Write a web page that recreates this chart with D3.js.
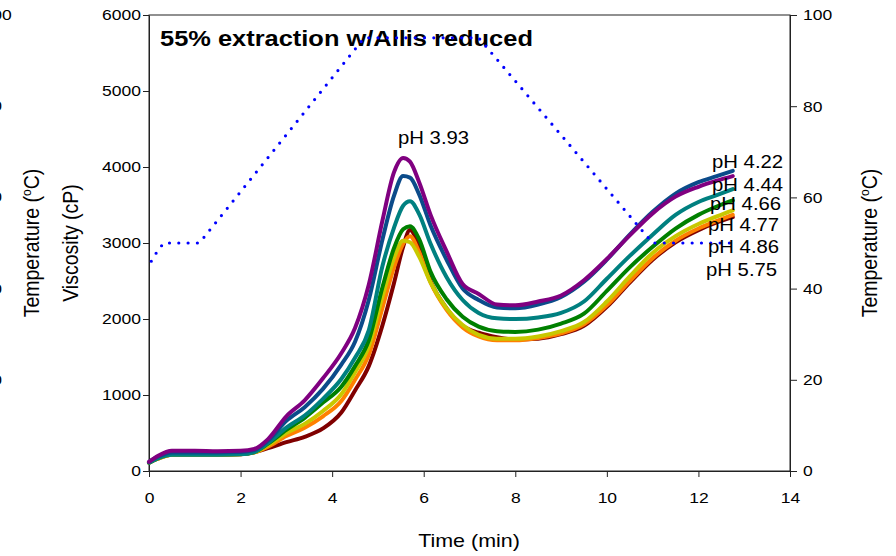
<!DOCTYPE html>
<html><head><meta charset="utf-8">
<script src="https://cdn.jsdelivr.net/npm/d3@7"></script>
<style>html,body{margin:0;padding:0;background:#fff;} svg{display:block;}</style>
</head><body>
<svg id="chart" width="896" height="556"></svg>
<script>
// ---------------- data ----------------
const times = [0, 0.2, 0.5, 1.0, 1.5, 2.0, 2.3, 2.6, 3.0, 3.4, 3.8, 4.2, 4.5, 4.8, 5.1, 5.35, 5.55, 5.7, 5.9, 6.15, 6.5, 6.85, 7.2, 7.6, 8.0, 8.5, 9.0, 9.5, 10.0, 10.5, 11.0, 11.5, 12.0, 12.4, 12.75];

const viscPH393 = [120, 200, 265, 265, 260, 265, 290, 420, 720, 930, 1220, 1550, 1880, 2450, 3300, 3930, 4120, 4070, 3800, 3370, 2890, 2460, 2330, 2190, 2180, 2230, 2310, 2510, 2790, 3100, 3390, 3610, 3740, 3820, 3880];
const viscPH422 = [120, 190, 245, 245, 245, 250, 275, 400, 660, 840, 1080, 1400, 1700, 2250, 3050, 3620, 3880, 3860, 3640, 3230, 2780, 2400, 2250, 2150, 2140, 2190, 2290, 2490, 2780, 3110, 3410, 3650, 3800, 3880, 3950];
const viscPH444 = [110, 170, 215, 215, 215, 220, 250, 370, 570, 730, 950, 1210, 1490, 1850, 2700, 3200, 3490, 3550, 3380, 2990, 2550, 2250, 2080, 2010, 2000, 2020, 2080, 2230, 2530, 2830, 3110, 3370, 3540, 3630, 3710];
const viscPH466 = [110, 170, 220, 220, 220, 225, 250, 360, 540, 700, 900, 1110, 1380, 1720, 2420, 2930, 3180, 3220, 3050, 2620, 2260, 2030, 1900, 1840, 1830, 1860, 1940, 2070, 2370, 2680, 2950, 3190, 3370, 3480, 3560];
const viscPH477 = [110, 165, 215, 215, 215, 220, 245, 340, 500, 620, 790, 1010, 1300, 1640, 2300, 2800, 3030, 3010, 2820, 2480, 2140, 1920, 1790, 1740, 1740, 1770, 1840, 1960, 2230, 2560, 2870, 3090, 3250, 3350, 3430];
const viscPH486 = [110, 165, 215, 215, 215, 220, 245, 320, 460, 570, 720, 920, 1200, 1530, 2150, 2680, 2990, 3090, 2880, 2480, 2120, 1890, 1770, 1720, 1720, 1750, 1810, 1930, 2180, 2500, 2800, 3030, 3190, 3290, 3370];
const viscPH575 = [110, 165, 215, 215, 215, 220, 245, 300, 380, 450, 560, 770, 1060, 1380, 1920, 2470, 2950, 3170, 2960, 2500, 2140, 1910, 1820, 1760, 1730, 1740, 1800, 1910, 2160, 2480, 2780, 3010, 3170, 3270, 3340];

const tempTimes  = [0.05, 0.17, 0.32, 1.1, 4.7, 7.2, 11.0, 12.8];
const tempValues = [46, 48, 50, 50, 95, 95, 50, 50];

const seriesLabels = ["pH 3.93", "pH 4.22", "pH 4.44", "pH 4.66", "pH 4.77", "pH 4.86", "pH 5.75"];
const xTickValues = [0, 2, 4, 6, 8, 10, 12, 14];
const viscTickValues = [0, 1000, 2000, 3000, 4000, 5000, 6000];
const tempTickValues = [0, 20, 40, 60, 80, 100];
const titleText = "55% extraction w/Allis reduced";
const xTitle = "Time (min)";
const viscTitle = "Viscosity (cP)";

// ---------------- styles / layout ----------------
const FONT = "'Liberation Sans', Arial, Helvetica, sans-serif";
const SX = 1.13; // horizontal text stretch seen in the reference
const W = 896, H = 556;
const L = 149, R = 790, T = 15, B = 471;

const seriesData = [viscPH393, viscPH422, viscPH444, viscPH466, viscPH477, viscPH486, viscPH575];
const seriesColors = ["#800080", "#0b4b8a", "#008080", "#008000", "#c8c800", "#ff8000", "#800000"];
const drawOrder = [6, 5, 4, 3, 2, 1, 0];

const svg = d3.select("#chart");

const x = d3.scaleLinear().domain([0, 14]).range([L, R]);
const y = d3.scaleLinear().domain([0, 6000]).range([B, T]);
const yT = d3.scaleLinear().domain([0, 100]).range([B, T]);

function stretchedText(parent, px, py, str, o) {
  const g = parent.append("g")
    .attr("transform", `translate(${px},${py}) scale(${SX},1)` + (o.rotate ? ` rotate(${o.rotate})` : ""));
  const t = g.append("text")
    .attr("font-family", FONT)
    .attr("font-size", o.size)
    .attr("font-weight", o.weight || "normal")
    .attr("text-anchor", o.anchor || "start")
    .attr("fill", "#000");
  if (o.dy) t.attr("dy", o.dy);
  return t;
}
function tempTitle(parent, px, py) {
  const t = stretchedText(parent, px, py, "", {size: 19.5, anchor: "middle", rotate: -90});
  t.append("tspan").text("Temperature (");
  t.append("tspan").text("o").attr("font-size", 12).attr("dy", -7);
  t.append("tspan").text("C)").attr("dy", 7);
}

// frame
svg.append("rect").attr("x", L).attr("y", T).attr("width", R - L).attr("height", B - T)
  .attr("fill", "none").attr("stroke", "#222").attr("stroke-width", 1);

// left axis (viscosity)
const gl = svg.append("g").attr("transform", `translate(${L},0)`)
  .call(d3.axisLeft(y).tickValues(viscTickValues).tickSize(6).tickSizeOuter(0).tickFormat(d3.format("d")));
gl.select(".domain").attr("stroke", "#222");
gl.selectAll(".tick line").attr("stroke", "#222");
gl.selectAll(".tick text").attr("font-family", FONT).attr("font-size", 15.5).attr("fill", "#000")
  .attr("x", -8 / SX).attr("transform", `scale(${SX},1)`);

// right axis (temperature)
const gr = svg.append("g").attr("transform", `translate(${R},0)`)
  .call(d3.axisRight(yT).tickValues(tempTickValues).tickSize(7).tickSizeOuter(0).tickFormat(d3.format("d")));
gr.select(".domain").attr("stroke", "#222");
gr.selectAll(".tick line").attr("stroke", "#222");
gr.selectAll(".tick text").attr("font-family", FONT).attr("font-size", 15.5).attr("fill", "#000")
  .attr("x", 13 / SX).attr("transform", `scale(${SX},1)`);

// bottom axis
const gb = svg.append("g").attr("transform", `translate(0,${B})`)
  .call(d3.axisBottom(x).tickValues(xTickValues).tickSize(6).tickSizeOuter(0).tickFormat(d3.format("d")));
gb.select(".domain").attr("stroke", "#222");
gb.selectAll(".tick line").attr("stroke", "#222");
gb.selectAll(".tick text").attr("font-family", FONT).attr("font-size", 15.5).attr("fill", "#000")
  .attr("dy", 0).attr("y", 32).attr("transform", `scale(${SX},1)`)
  .attr("x", 0);
gb.selectAll(".tick").each(function(d){
  d3.select(this).select("text").attr("transform", null);
});
gb.selectAll(".tick text").each(function(){
  const el = d3.select(this);
  el.attr("transform", `scale(${SX},1)`);
});

// hidden/offset third axis labels clipped at left edge
tempTickValues.forEach(v => {
  stretchedText(svg, -17.5, yT(v), "", {size: 15.5, anchor: "start", dy: "0.32em"}).text(String(v));
});

// axis titles
tempTitle(svg, 39, 243);
stretchedText(svg, 78, 243, "", {size: 19.5, anchor: "middle", rotate: -90}).text(viscTitle);
tempTitle(svg, 877, 243);
stretchedText(svg, 469, 547, "", {size: 19, anchor: "middle"}).text(xTitle);

// title
stretchedText(svg, 160, 46, "", {size: 22.5, weight: "bold"}).text(titleText);

// viscosity curves
const line = d3.line().x((d, i) => x(times[i])).y(d => y(d)).curve(d3.curveMonotoneX);
drawOrder.forEach(k => {
  svg.append("path").datum(seriesData[k])
    .attr("d", line)
    .attr("fill", "none")
    .attr("stroke", seriesColors[k])
    .attr("stroke-width", 4)
    .attr("stroke-linejoin", "round")
    .attr("stroke-linecap", "round");
});

// temperature profile (dotted)
const tline = d3.line().x((d, i) => x(tempTimes[i])).y(d => yT(d));
svg.append("path").datum(tempValues)
  .attr("d", tline)
  .attr("fill", "none")
  .attr("stroke", "#0000ff")
  .attr("stroke-width", 3.2)
  .attr("stroke-linecap", "round")
  .attr("stroke-dasharray", "0 9.3");

// series labels
const labelPos = [[398, 144], [712, 168], [712, 191], [710, 210], [708, 231], [708, 253], [706, 276]];
seriesLabels.forEach((s, i) => {
  stretchedText(svg, labelPos[i][0], labelPos[i][1], "", {size: 18}).text(s);
});
</script>
</body></html>
